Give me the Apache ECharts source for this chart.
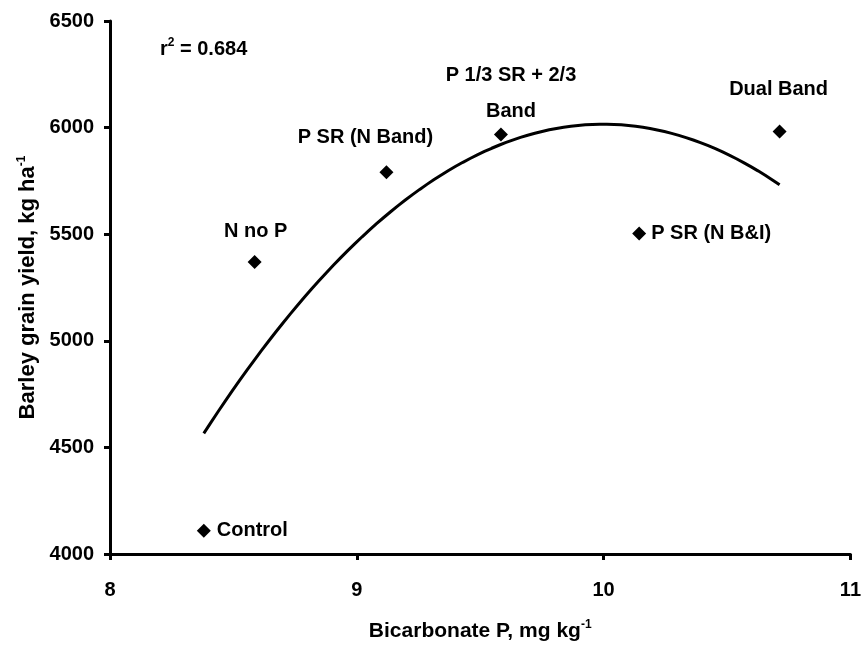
<!DOCTYPE html>
<html>
<head>
<meta charset="utf-8">
<script src="https://cdn.jsdelivr.net/npm/echarts@6/dist/echarts.min.js"></script>
<style>html,body{margin:0;padding:0;background:#fff}#c{width:864px;height:647px}</style>
</head>
<body>
<div id="c"></div>
<script>
// Data
var treatments = ['Control', 'N no P', 'P SR (N Band)', 'P 1/3 SR + 2/3\nBand', 'P SR (N B&I)', 'Dual Band'];
var bicarbP = [8.38, 8.586, 9.12, 9.584, 10.144, 10.713];
var yieldKg = [4109, 5370, 5791, 5968, 5503, 5982];
var xTicks = [8, 9, 10, 11];
var yTicks = [4000, 4500, 5000, 5500, 6000, 6500];
var r2Text = '0.684';

// least-squares quadratic trendline computed from the data
function quadFit(xs, ys) {
  var n = xs.length, S = [0,0,0,0,0], T = [0,0,0];
  for (var i = 0; i < n; i++) {
    var p = 1;
    for (var k = 0; k < 5; k++) { S[k] += p; if (k < 3) T[k] += p * ys[i]; p *= xs[i]; }
  }
  var A = [[S[0],S[1],S[2],T[0]],[S[1],S[2],S[3],T[1]],[S[2],S[3],S[4],T[2]]];
  for (var c = 0; c < 3; c++) {
    for (var r = c + 1; r < 3; r++) {
      var f = A[r][c] / A[c][c];
      for (var j = c; j < 4; j++) A[r][j] -= f * A[c][j];
    }
  }
  var b = [0,0,0];
  for (var r2 = 2; r2 >= 0; r2--) {
    var s = A[r2][3];
    for (var j2 = r2 + 1; j2 < 3; j2++) s -= A[r2][j2] * b[j2];
    b[r2] = s / A[r2][r2];
  }
  return b;
}
var coef = quadFit(bicarbP, yieldKg);
var xMin = Math.min.apply(null, bicarbP), xMax = Math.max.apply(null, bicarbP);
var trend = [];
for (var i = 0; i <= 80; i++) {
  var x = xMin + (xMax - xMin) * i / 80;
  trend.push([x, coef[0] + coef[1] * x + coef[2] * x * x]);
}

var FONT = 'Liberation Sans, Arial, sans-serif';
var labelCfg = [
  {position: 'right', distance: 6},
  {position: 'inside', offset: [1, -30]},
  {position: 'inside', offset: [-21, -35]},
  {position: 'inside', offset: [10, -41], lineHeight: 36},
  {position: 'right', distance: 5},
  {position: 'inside', offset: [-1, -42]}
];
var pts = bicarbP.map(function (x, i) {
  var lc = labelCfg[i];
  var lab = {show: true, formatter: treatments[i], position: lc.position,
    color: '#000', opacity: 1, fontFamily: FONT, fontWeight: 'bold', fontSize: 20,
    align: lc.position === 'inside' ? 'center' : 'left'};
  if (lc.offset) lab.offset = lc.offset;
  if (lc.distance !== undefined) lab.distance = lc.distance;
  if (lc.lineHeight) lab.lineHeight = lc.lineHeight;
  return {value: [x, yieldKg[i]], label: lab};
});

var chart = echarts.init(document.getElementById('c'), null, {renderer: 'canvas'});
var axisTxt = {color: '#000', fontFamily: FONT, fontWeight: 'bold', fontSize: 20};
function richName(sz) {
  return {rich: {
    a: {color: '#000', fontFamily: FONT, fontWeight: 'bold', fontSize: sz, lineHeight: 24},
    s: {color: '#000', fontFamily: FONT, fontWeight: 'bold', fontSize: 12, verticalAlign: 'top', lineHeight: 24}
  }};
}
chart.setOption({
  animation: false,
  backgroundColor: '#fff',
  grid: {left: 110, right: 12, top: 21, bottom: 93, containLabel: false},
  xAxis: {
    type: 'value', min: xTicks[0], max: xTicks[xTicks.length - 1], interval: 1,
    axisLine: {lineStyle: {color: '#000', width: 3}},
    axisTick: {show: true, length: 6, lineStyle: {color: '#000', width: 3}},
    splitLine: {show: false},
    axisLabel: Object.assign({margin: 26, formatter: function (v) { return String(v); }}, axisTxt),
    name: '{a|Bicarbonate P, mg kg}{s|-1}',
    nameLocation: 'middle', nameGap: 65,
    nameTextStyle: richName(21)
  },
  yAxis: {
    type: 'value', min: yTicks[0], max: yTicks[yTicks.length - 1], interval: 500,
    axisLine: {show: true, lineStyle: {color: '#000', width: 3}},
    axisTick: {show: true, length: 6, lineStyle: {color: '#000', width: 3}},
    splitLine: {show: false},
    axisLabel: Object.assign({margin: 16, formatter: function (v) { return String(v); }}, axisTxt),
    name: '{a|Barley grain yield, kg ha}{s|-1}',
    nameLocation: 'middle', nameGap: 70,
    nameTextStyle: richName(22)
  },
  graphic: [{
    type: 'text', left: 160, top: 37,
    style: {rich: {a: {fill: '#000', font: 'bold 20px ' + FONT, lineHeight: 24}, s: {fill: '#000', font: 'bold 12px ' + FONT, verticalAlign: 'top', lineHeight: 24}},
      text: '{a|r}{s|2}{a| = ' + r2Text + '}'}
  }],
  series: [
    {type: 'line', data: trend, showSymbol: false, smooth: false, silent: true,
     lineStyle: {color: '#000', width: 3}, z: 2},
    {type: 'scatter', data: pts, symbol: 'diamond', symbolSize: 14,
     itemStyle: {color: '#000', opacity: 1}, z: 3}
  ]
});
</script>
</body>
</html>
